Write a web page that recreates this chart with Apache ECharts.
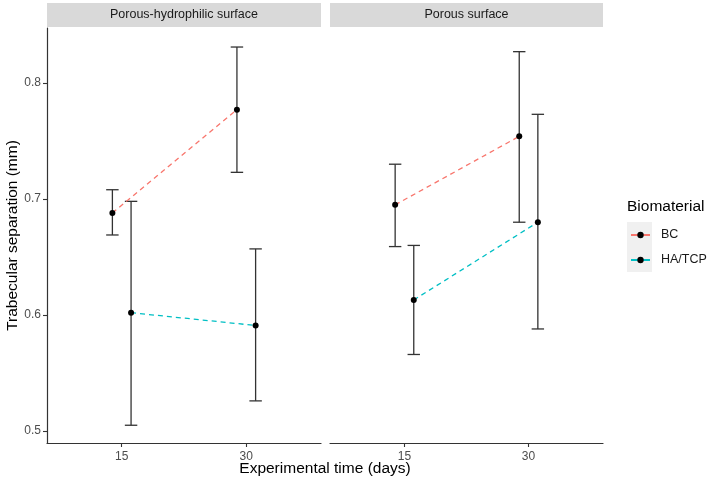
<!DOCTYPE html>
<html>
<head>
<meta charset="utf-8">
<script src="https://cdn.jsdelivr.net/npm/echarts@6/dist/echarts.min.js"></script>
<style>html,body{margin:0;padding:0;background:#fff}#chart{width:709px;height:485px}</style>
</head>
<body>
<div id="chart"></div>
<script>
// ---- data ----
var days = ['15', '30'];
var panels = ['Porous-hydrophilic surface', 'Porous surface'];
var groups = ['BC', 'HA/TCP'];
// Porous-hydrophilic surface
var phBCMean = [0.688, 0.777];
var phBCLow  = [0.669, 0.723];
var phBCHigh = [0.708, 0.831];
var phHAMean = [0.602, 0.591];
var phHALow  = [0.505, 0.526];
var phHAHigh = [0.698, 0.657];
// Porous surface
var pBCMean = [0.695, 0.754];
var pBCLow  = [0.659, 0.680];
var pBCHigh = [0.730, 0.827];
var pHAMean = [0.613, 0.680];
var pHALow  = [0.566, 0.588];
var pHAHigh = [0.660, 0.773];
var yTicks = [0.5, 0.6, 0.7, 0.8];

var colors = {'BC': '#F8766D', 'HA/TCP': '#00BFC4'};
var dodge = {'BC': -0.075, 'HA/TCP': 0.075};
var FONT = '"Liberation Sans", Arial, Helvetica, sans-serif';

var chart = echarts.init(document.getElementById('chart'));

var grids = [
  {left: 47, right: 388, top: 28, bottom: 42},
  {left: 330, right: 106, top: 28, bottom: 42}
];

function xAxisFor(i) {
  return {
    type: 'value', gridIndex: i, min: 0.4, max: 2.6,
    splitLine: {show: false},
    axisLine: {show: true, lineStyle: {color: '#333', width: 1.2}},
    axisTick: {show: true, customValues: [1, 2], length: 4, lineStyle: {color: '#333', width: 1.1}},
    axisLabel: {customValues: [1, 2], formatter: function (v) { return days[Math.round(v) - 1]; },
      color: '#4D4D4D', fontSize: 12, fontFamily: FONT, margin: 8}
  };
}
function yAxisFor(i) {
  return {
    type: 'value', gridIndex: i, min: 0.4897, max: 0.8474,
    splitLine: {show: false},
    axisLine: {show: i === 0, lineStyle: {color: '#333', width: 1.2}},
    axisTick: {show: i === 0, customValues: yTicks, length: 4, lineStyle: {color: '#333', width: 1.1}},
    axisLabel: {show: i === 0, customValues: yTicks, formatter: function (v) { return v.toFixed(1); },
      color: '#4D4D4D', fontSize: 12, fontFamily: FONT, margin: 6},
    name: i === 0 ? 'Trabecular separation (mm)' : '',
    nameLocation: 'middle', nameGap: 24,
    nameTextStyle: {color: '#000', fontSize: 15.5, fontFamily: FONT}
  };
}

var panelData = [
  {'BC': [phBCMean, phBCLow, phBCHigh], 'HA/TCP': [phHAMean, phHALow, phHAHigh]},
  {'BC': [pBCMean, pBCLow, pBCHigh], 'HA/TCP': [pHAMean, pHALow, pHAHigh]}
];

var series = [];
panelData.forEach(function (pd, pi) {
  groups.forEach(function (g) {
    var m = pd[g][0], lo = pd[g][1], hi = pd[g][2];
    var errData = days.map(function (d, k) { return [k + 1 + dodge[g], lo[k], hi[k]]; });
    series.push({
      type: 'custom', xAxisIndex: pi, yAxisIndex: pi, z: 1, silent: true,
      data: errData,
      renderItem: function (params, api) {
        var x = api.value(0);
        var p1 = api.coord([x, api.value(1)]);
        var p2 = api.coord([x, api.value(2)]);
        var hw = api.size([0.05, 0])[0];
        var st = {stroke: '#333', lineWidth: 1.3, fill: null};
        return {type: 'group', children: [
          {type: 'line', shape: {x1: p1[0], y1: p1[1], x2: p2[0], y2: p2[1]}, style: st},
          {type: 'line', shape: {x1: p1[0] - hw, y1: p1[1], x2: p1[0] + hw, y2: p1[1]}, style: st},
          {type: 'line', shape: {x1: p2[0] - hw, y1: p2[1], x2: p2[0] + hw, y2: p2[1]}, style: st}
        ]};
      }
    });
    series.push({
      type: 'line', name: g, xAxisIndex: pi, yAxisIndex: pi, z: 3,
      data: days.map(function (d, k) { return [k + 1 + dodge[g], m[k]]; }),
      symbol: 'circle', symbolSize: 6, showSymbol: true,
      itemStyle: {color: '#000'},
      lineStyle: {color: colors[g], type: [5, 4], width: 1.3},
      emphasis: {disabled: true}, animation: false
    });
  });
});

var option = {
  animation: false,
  grid: grids,
  xAxis: [xAxisFor(0), xAxisFor(1)],
  yAxis: [yAxisFor(0), yAxisFor(1)],
  legend: {
    data: groups, orient: 'vertical', left: 630, top: 227.5, padding: 0,
    itemWidth: 19, itemHeight: 8, itemGap: 10,
    lineStyle: {type: 'solid'},
    textStyle: {color: '#1a1a1a', fontSize: 12.5, fontFamily: FONT, padding: [0, 0, 0, 6], lineHeight: 15},
    selectedMode: false
  },
  graphic: [
    {type: 'rect', left: 47, top: 3, shape: {width: 274, height: 24}, style: {fill: '#D9D9D9'}, z: 0},
    {type: 'rect', left: 330, top: 3, shape: {width: 273, height: 24}, style: {fill: '#D9D9D9'}, z: 0},
    {type: 'text', x: 184, y: 15, style: {text: panels[0], fill: '#1a1a1a', font: '12.5px ' + FONT, align: 'center', verticalAlign: 'middle'}},
    {type: 'text', x: 466.5, y: 15, style: {text: panels[1], fill: '#1a1a1a', font: '12.5px ' + FONT, align: 'center', verticalAlign: 'middle'}},
    {type: 'text', x: 325, y: 469, style: {text: 'Experimental time (days)', fill: '#000', font: '15.5px ' + FONT, align: 'center', verticalAlign: 'middle'}},
    {type: 'text', x: 627, y: 207, style: {text: 'Biomaterial', fill: '#000', font: '15.5px ' + FONT, align: 'left', verticalAlign: 'middle'}},
    {type: 'rect', left: 627, top: 222, shape: {width: 25, height: 50}, style: {fill: '#F0F0F0'}, z: -1}
  ],
  series: series
};
chart.setOption(option);
</script>
</body>
</html>
